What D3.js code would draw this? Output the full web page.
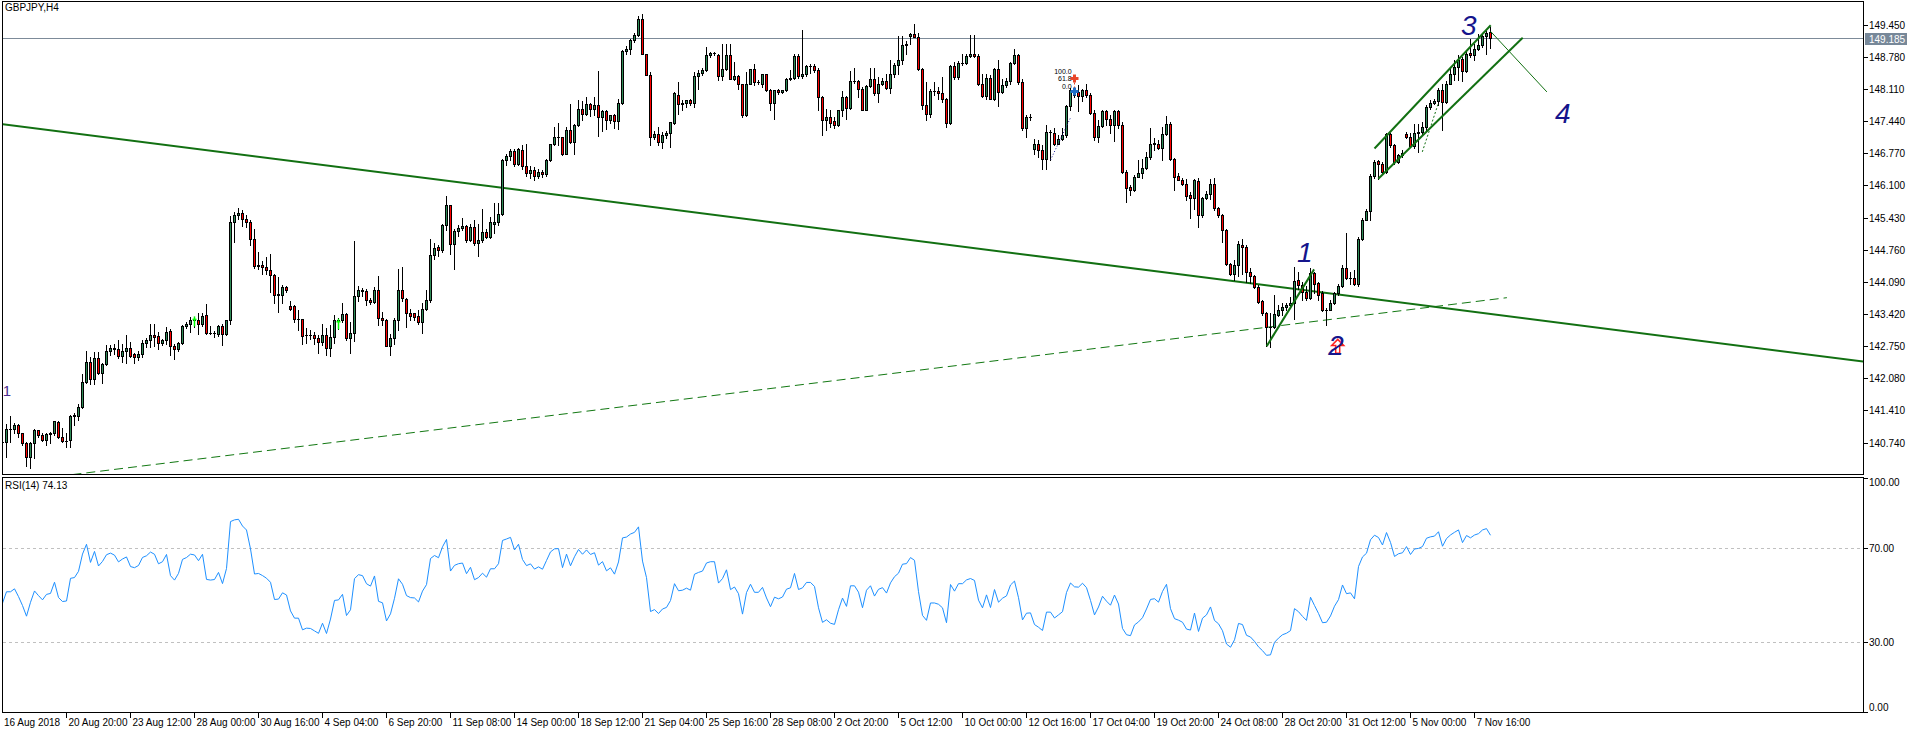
<!DOCTYPE html>
<html><head><meta charset="utf-8">
<script src="https://cdn.jsdelivr.net/npm/d3@7"></script>
<style>
body{margin:0;background:#fff}
svg{display:block}
text{font-family:"Liberation Sans",Arial,sans-serif}
</style></head>
<body><svg id="c" width="1916" height="734"></svg>
<script>
const symbolLabel = "GBPJPY,H4";
const rsiLabel = "RSI(14) 74.13";
const rsiPeriod = 14;
const rsiSeed = [0.10, 0.115]; // average gain / loss carried in from the bars before the window
const currentPrice = 149.185;
const timeLabels = ["16 Aug 2018","20 Aug 20:00","23 Aug 12:00","28 Aug 00:00","30 Aug 16:00","4 Sep 04:00","6 Sep 20:00","11 Sep 08:00","14 Sep 00:00","18 Sep 12:00","21 Sep 04:00","25 Sep 16:00","28 Sep 08:00","2 Oct 20:00","5 Oct 12:00","10 Oct 00:00","12 Oct 16:00","17 Oct 04:00","19 Oct 20:00","24 Oct 08:00","28 Oct 20:00","31 Oct 12:00","5 Nov 00:00","7 Nov 16:00"];
const priceTicks = [140.740,141.410,142.080,142.750,143.420,144.090,144.760,145.430,146.100,146.770,147.440,148.110,148.780,149.450];
const rsiTicks = [100,70,30,0];
const rsiLevels = [70,30];

const opens = [
140.75,140.75,141.03,141.03,141.10,140.93,140.72,140.44,140.73,141.00,
140.89,140.79,140.91,140.93,141.16,140.86,140.77,140.79,141.29,141.29,
141.47,142.01,142.41,142.06,142.51,142.19,142.37,142.65,142.72,142.68,
142.55,142.65,142.72,142.58,142.53,142.59,142.82,142.87,142.98,142.96,
142.82,142.87,143.06,142.75,142.68,142.82,143.16,143.21,143.30,143.29,
143.22,143.39,143.03,143.02,143.01,143.16,143.01,143.30,145.33,145.48,
145.53,145.41,145.34,144.99,144.42,144.44,144.41,144.33,144.24,143.82,
143.82,143.98,143.58,143.58,143.32,143.32,142.99,142.98,142.98,142.91,
142.84,142.99,142.71,142.94,143.29,143.29,143.41,142.92,143.03,143.79,
143.91,143.89,143.72,143.67,143.93,143.34,143.30,142.75,142.91,143.30,
143.91,143.74,143.43,143.43,143.37,143.25,143.53,143.71,144.66,144.82,
144.75,145.27,145.69,144.87,145.14,145.22,145.25,144.97,145.23,144.89,
144.97,145.13,145.03,145.29,145.33,145.51,146.63,146.72,146.82,146.55,
146.83,146.50,146.35,146.42,146.30,146.38,146.33,146.63,146.97,147.10,
147.11,146.75,147.26,147.01,147.37,147.70,147.60,147.79,147.70,147.77,
147.53,147.65,147.47,147.56,147.44,147.81,148.90,148.95,149.13,149.23,
149.58,148.85,148.40,147.11,147.18,147.00,147.15,147.20,147.40,147.99,
147.79,147.81,147.88,147.82,148.38,148.45,148.50,148.81,148.86,148.83,
148.38,148.52,148.81,148.31,148.39,148.21,147.56,148.22,148.52,148.26,
148.22,148.42,148.10,147.81,148.09,148.04,148.09,148.31,148.35,148.79,
148.38,148.43,148.59,148.59,148.50,147.95,147.46,147.52,147.44,147.36,
147.67,147.95,147.72,148.28,148.28,148.12,147.68,148.17,148.31,148.02,
148.22,148.27,148.13,148.42,148.61,148.72,149.02,149.22,149.25,149.20,
148.52,147.77,147.58,148.06,148.06,148.02,147.91,147.40,148.59,148.36,
148.65,148.65,148.79,148.84,148.79,148.22,147.96,148.35,147.91,148.52,
148.05,148.19,148.27,148.66,148.81,148.26,147.29,147.52,146.87,146.97,
146.83,146.66,147.22,147.20,146.97,147.06,147.15,147.75,148.10,148.04,
147.97,148.10,147.98,147.61,147.11,147.33,147.65,147.49,147.36,147.65,
147.37,146.38,146.07,146.00,146.28,146.36,146.47,146.70,146.97,146.96,
146.89,147.18,147.39,146.66,146.29,146.22,146.14,145.90,145.83,146.19,
145.48,145.83,145.92,146.14,145.62,145.48,145.17,144.46,144.26,144.44,
144.85,144.82,144.30,144.21,143.98,143.69,143.44,143.14,143.15,143.39,
143.50,143.57,143.60,143.65,144.12,144.02,143.88,143.76,144.28,144.07,
143.85,143.50,143.51,143.64,143.85,144.00,144.37,144.16,144.16,144.04,
144.99,145.39,145.56,146.29,146.61,146.54,146.38,147.17,146.94,146.59,
146.73,147.18,147.10,146.92,147.19,147.22,147.31,147.74,147.82,147.86,
148.10,147.84,148.22,148.42,148.57,148.74,148.49,148.86,148.81,148.95,
149.02,149.21,149.30];

const highs = [
140.78,141.12,141.30,141.15,141.13,140.94,140.75,140.75,141.03,141.01,
140.93,140.93,140.96,141.19,141.19,141.05,140.93,141.31,141.36,141.54,
142.16,142.64,142.53,142.63,142.63,142.40,142.77,142.78,142.79,142.87,
142.80,142.98,142.84,142.61,142.65,142.87,142.92,143.21,143.21,143.05,
142.90,143.15,143.10,142.80,142.84,143.20,143.25,143.35,143.36,143.43,
143.44,143.62,143.16,143.07,143.18,143.22,143.30,145.46,145.55,145.64,
145.58,145.49,145.39,145.20,144.71,144.53,144.60,144.67,144.26,144.19,
144.02,144.00,143.69,143.60,143.50,143.32,143.13,143.09,143.05,142.98,
143.22,143.12,143.18,143.39,143.34,143.64,143.44,143.25,144.94,144.00,
143.97,143.95,143.76,143.98,144.21,143.46,143.32,143.01,143.34,144.35,
144.40,143.76,143.53,143.44,143.50,143.64,143.91,144.99,144.89,144.85,
145.29,145.87,145.69,145.20,145.27,145.43,145.27,145.30,145.37,145.29,
145.60,145.20,145.44,145.74,145.74,146.66,146.75,146.85,146.87,146.89,
146.94,146.97,146.50,146.48,146.45,146.42,146.66,146.97,147.32,147.41,
147.12,147.32,147.79,147.39,147.88,147.86,147.95,147.82,147.95,148.48,
147.68,147.68,147.56,147.58,147.91,148.93,149.00,149.16,149.28,149.63,
149.67,148.85,148.47,147.24,147.31,147.22,147.24,147.42,148.05,148.26,
147.88,147.89,147.91,148.47,148.50,148.54,148.99,148.88,148.88,148.85,
149.06,149.06,149.06,148.67,148.40,148.21,148.47,148.52,148.64,148.29,
148.43,148.43,148.12,148.10,148.12,148.10,148.35,148.50,148.84,148.84,
149.35,148.62,148.63,148.64,148.54,147.96,147.70,147.67,147.53,147.68,
148.06,147.96,148.48,148.55,148.29,148.15,148.19,148.54,148.54,148.36,
148.35,148.43,148.71,148.65,149.21,149.21,149.11,149.28,149.46,149.27,
148.54,148.26,148.12,148.26,148.15,148.36,147.93,148.61,148.68,148.70,
148.85,148.85,149.23,149.23,148.85,148.43,148.43,148.40,148.54,148.72,
148.31,148.35,148.68,148.95,148.84,148.33,147.56,147.58,147.06,147.04,
146.94,147.36,147.25,147.29,147.15,147.29,147.77,148.14,148.15,148.19,
148.12,148.21,148.02,147.68,147.46,147.67,147.67,147.56,147.67,147.67,
147.42,146.42,146.10,146.31,146.63,146.66,146.80,147.29,147.08,147.04,
147.32,147.54,147.42,146.67,146.35,146.26,146.24,145.97,146.24,146.26,
145.86,145.99,146.24,146.26,145.65,145.50,145.20,144.48,144.54,144.94,
144.99,144.85,144.37,144.23,144.02,143.72,143.46,143.43,143.81,143.60,
143.64,143.64,143.78,144.39,144.30,144.09,144.00,144.37,144.30,144.09,
143.90,143.55,143.71,143.88,144.05,144.44,145.11,144.30,144.33,145.03,
145.43,145.60,146.33,146.63,146.64,146.59,147.20,147.20,146.97,146.76,
146.83,147.22,147.19,147.39,147.39,147.42,147.77,147.89,147.91,148.14,
148.21,148.28,148.58,148.71,148.81,148.78,148.90,149.16,149.06,149.25,
149.25,149.32,149.40];

const lows = [
140.72,140.44,140.75,140.93,140.86,140.68,140.25,140.20,140.41,140.86,
140.77,140.68,140.72,140.89,140.84,140.75,140.65,140.65,141.10,141.20,
141.45,141.98,141.97,141.97,142.16,141.98,142.35,142.57,142.58,142.50,
142.42,142.39,142.53,142.39,142.46,142.52,142.73,142.73,142.76,142.70,
142.78,142.80,142.57,142.49,142.65,142.80,143.12,143.05,143.15,143.00,
143.17,143.01,143.00,142.93,142.97,142.78,142.99,143.21,144.92,145.41,
145.25,145.24,144.85,144.37,144.35,144.26,144.26,143.88,143.64,143.46,
143.65,143.88,143.51,143.25,143.09,142.80,142.82,142.89,142.80,142.61,
142.78,142.57,142.55,142.82,143.10,143.25,142.87,142.61,142.86,143.69,
143.79,143.60,143.63,143.65,143.18,143.18,142.75,142.57,142.80,143.09,
143.70,143.14,143.30,143.29,143.22,143.03,143.50,143.67,144.56,144.63,
144.71,145.17,144.68,144.35,145.04,145.18,144.92,144.94,144.85,144.63,
144.92,145.01,145.00,145.10,145.27,145.48,146.52,146.63,146.50,146.52,
146.45,146.30,146.25,146.22,146.26,146.28,146.30,146.60,146.94,146.94,
146.73,146.75,146.99,146.76,147.35,147.46,147.56,147.54,147.56,147.13,
147.24,147.27,147.40,147.30,147.28,147.80,148.85,148.85,149.09,149.22,
148.85,148.40,146.94,147.06,146.95,146.89,147.08,146.90,147.39,147.60,
147.67,147.74,147.77,147.74,148.12,148.40,148.49,148.78,148.81,148.29,
148.29,148.50,148.31,148.29,148.12,147.53,147.54,148.22,148.19,148.21,
148.15,148.07,147.68,147.49,148.00,148.03,148.08,148.29,148.33,148.35,
148.35,148.38,148.45,148.47,147.67,147.15,147.25,147.32,147.29,147.33,
147.54,147.49,147.70,148.24,147.95,147.67,147.67,148.15,147.98,147.84,
148.19,148.12,148.02,148.36,148.43,148.64,148.85,149.04,149.19,148.50,
147.70,147.46,147.53,147.98,147.91,147.84,147.31,147.39,148.33,148.33,
148.61,148.64,148.78,148.77,148.19,147.95,147.91,147.90,147.89,147.75,
148.03,148.15,148.22,148.64,148.22,147.25,147.11,147.47,146.76,146.70,
146.45,146.45,146.63,146.94,146.97,147.04,147.10,147.68,147.95,147.65,
147.86,147.95,147.58,147.04,147.01,147.32,147.36,147.20,147.03,147.29,
146.36,145.76,145.90,145.99,146.27,146.26,146.45,146.66,146.83,146.87,
146.63,147.15,146.64,146.00,146.21,146.10,145.79,145.43,145.60,145.24,
145.44,145.81,145.81,145.58,145.44,144.92,144.44,144.23,144.12,144.21,
144.26,144.09,144.07,143.97,143.64,143.39,142.75,142.73,143.12,143.37,
143.39,143.50,143.55,143.32,143.95,143.71,143.72,143.74,143.85,143.71,
143.48,143.18,143.50,143.62,143.81,143.98,144.14,144.05,144.02,144.00,
144.96,145.37,145.37,146.26,146.24,146.36,146.35,146.90,146.55,146.56,
146.69,147.08,146.90,146.89,146.80,147.18,147.26,147.70,147.79,147.77,
147.25,147.82,148.21,148.29,148.29,148.28,148.47,148.78,148.72,148.93,
148.99,148.84,148.97];

const closes = [
140.75,141.03,141.03,141.10,140.93,140.72,140.44,140.73,141.00,140.89,
140.79,140.91,140.93,141.18,140.86,140.77,140.78,141.29,141.31,141.47,
142.01,142.41,142.06,142.51,142.19,142.37,142.65,142.72,142.68,142.55,
142.65,142.72,142.55,142.53,142.59,142.82,142.87,142.98,142.95,142.82,
142.87,143.05,142.75,142.68,142.82,143.16,143.21,143.30,143.29,143.22,
143.37,143.03,143.02,143.03,143.16,143.01,143.30,145.33,145.48,145.53,
145.41,145.34,144.99,144.42,144.44,144.39,144.33,144.24,143.82,143.83,
143.98,143.93,143.53,143.32,143.32,142.96,142.99,142.98,142.91,142.84,
142.99,142.71,142.94,143.29,143.30,143.41,142.92,143.03,143.79,143.91,
143.89,143.72,143.67,143.93,143.34,143.30,142.75,142.91,143.30,143.91,
143.76,143.43,143.37,143.36,143.25,143.53,143.71,144.66,144.80,144.75,
145.27,145.69,144.87,145.14,145.22,145.25,144.97,145.23,144.89,144.97,
145.13,145.03,145.33,145.33,145.51,146.63,146.72,146.82,146.55,146.85,
146.50,146.35,146.42,146.30,146.38,146.33,146.63,146.97,147.10,147.11,
146.75,147.26,147.01,147.37,147.70,147.60,147.79,147.70,147.77,147.53,
147.65,147.47,147.56,147.44,147.81,148.90,148.95,149.13,149.23,149.58,
148.85,148.40,147.11,147.18,147.00,147.15,147.20,147.42,148.03,147.79,
147.81,147.88,147.82,148.38,148.45,148.50,148.81,148.86,148.86,148.38,
148.52,148.81,148.31,148.39,148.21,147.56,148.22,148.52,148.26,148.26,
148.42,148.10,147.81,148.09,148.04,148.09,148.31,148.35,148.79,148.38,
148.43,148.59,148.59,148.50,147.95,147.46,147.52,147.40,147.36,147.67,
147.95,147.72,148.28,148.28,148.12,147.68,148.17,148.31,148.02,148.22,
148.27,148.13,148.42,148.61,148.72,149.02,149.04,149.25,149.20,148.52,
147.77,147.58,148.06,148.06,148.02,147.91,147.40,148.59,148.36,148.65,
148.65,148.79,148.84,148.79,148.22,147.96,148.35,147.91,148.52,148.05,
148.19,148.27,148.66,148.81,148.26,147.29,147.52,147.53,146.97,146.83,
146.66,147.22,147.22,146.97,147.06,147.15,147.75,148.10,147.98,147.97,
148.10,147.98,147.61,147.11,147.33,147.65,147.49,147.36,147.65,147.37,
146.38,146.05,146.00,146.28,146.36,146.47,146.70,146.97,146.99,146.89,
147.18,147.39,146.66,146.28,146.22,146.14,145.87,145.83,146.22,145.48,
145.83,145.92,146.14,145.62,145.48,145.17,144.46,144.26,144.44,144.87,
144.82,144.30,144.21,143.98,143.67,143.44,143.14,143.15,143.41,143.50,
143.57,143.60,143.65,144.11,144.02,143.88,143.76,144.28,144.05,143.81,
143.50,143.51,143.64,143.85,144.00,144.37,144.16,144.18,144.04,144.99,
145.39,145.56,146.29,146.59,146.54,146.38,147.17,146.94,146.59,146.73,
146.78,147.10,146.92,147.19,147.22,147.31,147.74,147.82,147.86,148.10,
147.84,148.22,148.42,148.57,148.71,148.49,148.85,148.81,148.95,149.02,
149.21,149.28,149.185];

// drawn objects, in (bar index, price)
const trendMain = [[0,147.38],[465,142.43]];
const trendDashed = [[18.4,140.08],[376.1,143.76]];
const waveLine1 = [[316.05,142.75],[327.9,144.35]];
const channelUpper = [[343.0,146.87],[372.05,149.44]];
const channelLower = [[343.95,146.24],[380.05,149.18]];
const projLine = [[372.05,149.31],[386.1,148.05]];
const dotGreen = [[354.95,146.80],[358.95,147.81]];
const dotBlue = [[262.0,146.63],[267.05,147.52]];
const waveLabels = [["1",325.6,144.50],["2",333.4,142.57],["3",366.6,149.23],["4",390.1,147.40]];
const fibTexts = [["100.0",267.3,148.43],["61.8",267.3,148.27],["0.0",267.3,148.11]];
const fibMarks = [[268,148.33,"#e8462a"],[268,148.06,"#1f6fc8"]];
const limeMarks = [[48,143.37,143.16],[84,143.32,143.10]];

// ---------- drawing ----------
const svg = d3.select("#c");
const PL=2.5, PR=1863.5, MT=1.5, MB=474.5, RT=477.5, RB=712.5;
const x = d3.scaleLinear().domain([0,1]).range([2.5,6.5]);
const y = d3.scaleLinear().domain([140.74,149.45]).range([442.5,24.8]);
const yr = d3.scaleLinear().domain([0,100]).range([712,478]);

const defs = svg.append("defs");
defs.append("clipPath").attr("id","clipMain").append("rect").attr("x",3).attr("y",2).attr("width",1860).attr("height",472);
defs.append("clipPath").attr("id","clipRsi").append("rect").attr("x",3).attr("y",478).attr("width",1860).attr("height",234);

svg.append("rect").attr("width",1916).attr("height",734).attr("fill","#fff");

// current price line
const gm = svg.append("g").attr("clip-path","url(#clipMain)");
gm.append("line").attr("x1",PL).attr("x2",PR).attr("y1",Math.round(y(currentPrice))+0.5).attr("y2",Math.round(y(currentPrice))+0.5)
  .attr("stroke","#7d8b99").attr("stroke-width",1).attr("shape-rendering","crispEdges");

// trendlines
function seg(pts){return pts.map(d=>[x(d[0]),y(d[1])]);}
function extend(pts,i0,i1){const s=(pts[1][1]-pts[0][1])/(pts[1][0]-pts[0][0]);return [[i0,pts[0][1]+s*(i0-pts[0][0])],[i1,pts[0][1]+s*(i1-pts[0][0])]];}
const lineGen = d3.line();
gm.append("path").attr("d",lineGen(seg([extend(trendDashed,14,0)[0],trendDashed[1]])))
  .attr("stroke","#127812").attr("stroke-width",1).attr("fill","none").attr("stroke-dasharray","9,5");
gm.append("path").attr("d",lineGen(seg(extend(trendMain,x.invert(PL),x.invert(PR)))))
  .attr("stroke","#127012").attr("stroke-width",2).attr("fill","none");

// candles
const idx = d3.range(closes.length);
const bodyTop = i=>Math.round(y(Math.max(opens[i],closes[i])));
const bodyBot = i=>Math.round(y(Math.min(opens[i],closes[i])));
const gc = gm.append("g").attr("shape-rendering","crispEdges");
gc.selectAll("line.w").data(idx).join("line").attr("class","w")
  .attr("x1",i=>x(i)).attr("x2",i=>x(i))
  .attr("y1",i=>Math.round(y(highs[i]))).attr("y2",i=>Math.round(y(lows[i]))+1)
  .attr("stroke","#000").attr("stroke-width",1);
gc.selectAll("rect.b").data(idx.filter(i=>bodyBot(i)-bodyTop(i)>=1)).join("rect").attr("class","b")
  .attr("x",i=>x(i)-1).attr("width",2)
  .attr("y",i=>bodyTop(i)+0.5)
  .attr("height",i=>bodyBot(i)-bodyTop(i))
  .attr("fill",i=>closes[i]>=opens[i]?"#2e8b57":"#ff0000").attr("stroke","#000").attr("stroke-width",1);
gc.selectAll("line.d").data(idx.filter(i=>bodyBot(i)-bodyTop(i)<1)).join("line").attr("class","d")
  .attr("x1",i=>x(i)-1.5).attr("x2",i=>x(i)+1.5)
  .attr("y1",i=>Math.round(y(closes[i]))+0.5).attr("y2",i=>Math.round(y(closes[i]))+0.5)
  .attr("stroke","#000").attr("stroke-width",1);

// lime markers
limeMarks.forEach(m=>{
  gm.append("line").attr("x1",x(m[0])).attr("x2",x(m[0])).attr("y1",y(m[1])).attr("y2",y(m[2])).attr("stroke","#00ff00").attr("stroke-width",1.5);
  gm.append("line").attr("x1",x(m[0])-2).attr("x2",x(m[0])+2).attr("y1",y(m[1])+3).attr("y2",y(m[1])+3).attr("stroke","#00ff00").attr("stroke-width",1.5);
});

// wave / channel lines
[[waveLine1,2,null],[channelUpper,2,null],[channelLower,2,null],[projLine,1,null],[dotGreen,1,"2,2"]].forEach(l=>{
  gm.append("path").attr("d",lineGen(seg(l[0]))).attr("stroke","#127012").attr("stroke-width",l[1]).attr("fill","none").attr("stroke-dasharray",l[2]);
});
gm.append("path").attr("d",lineGen(seg(dotBlue))).attr("stroke","#1a1a9a").attr("stroke-width",1).attr("fill","none").attr("stroke-dasharray","1,2");

// fib texts and markers
fibTexts.forEach(t=>gm.append("text").attr("x",x(t[1])).attr("y",y(t[2])).attr("text-anchor","end").attr("font-size",7).attr("fill","#000").text(t[0]));
gm.append("line").attr("x1",x(268)).attr("x2",x(268)).attr("y1",y(fibMarks[0][1])).attr("y2",y(fibMarks[1][1])).attr("stroke","#e8462a").attr("stroke-dasharray","2,2");
fibMarks.forEach(m=>{
  const cx=x(m[0]), cy=y(m[1]);
  gm.append("path").attr("d",`M${cx-1.5},${cy-4}h3v2.5h2.5v3h-2.5v2.5h-3v-2.5h-2.5v-3h2.5z`).attr("fill",m[2]);
});

// red arrow at wave 2 (under the label)
(function(){const cx=x(333.8), ty=y(142.89), by=y(142.60);
  gm.append("path").attr("d",`M${cx},${ty} L${cx+6},${ty+6} L${cx+2},${ty+6} L${cx+2},${by} L${cx-2},${by} L${cx-2},${ty+6} L${cx-6},${ty+6} Z`)
   .attr("fill","none").attr("stroke","#ff2020").attr("stroke-width",1.5);})();
// wave labels
waveLabels.forEach(w=>gm.append("text").attr("x",x(w[1])).attr("y",y(w[2])).attr("text-anchor","middle")
  .attr("font-family","'Liberation Serif','Times New Roman',serif").attr("font-style","italic").attr("font-size",28).attr("fill","#15158c").text(w[0]));
gm.append("text").attr("x",x(1.1)).attr("y",y(141.71)).attr("text-anchor","middle").attr("font-size",15).attr("fill","#4b2d8f").text("1");

// header
svg.append("text").attr("x",5).attr("y",11).attr("font-size",10).attr("fill","#000").text(symbolLabel);

// frames
svg.append("rect").attr("x",PL).attr("y",MT).attr("width",PR-PL).attr("height",MB-MT).attr("fill","none").attr("stroke","#000").attr("shape-rendering","crispEdges");
svg.append("rect").attr("x",PL).attr("y",RT).attr("width",PR-PL).attr("height",RB-RT).attr("fill","none").attr("stroke","#000").attr("shape-rendering","crispEdges");

// price axis
const ga = svg.append("g");
priceTicks.forEach(p=>{
  const yy=Math.round(y(p))+0.5;
  ga.append("line").attr("x1",PR).attr("x2",PR+4).attr("y1",yy).attr("y2",yy).attr("stroke","#000").attr("shape-rendering","crispEdges");
  ga.append("text").attr("x",1869).attr("y",yy+3.5).attr("font-size",10).attr("fill","#000").text(p.toFixed(3));
});
const cpy = Math.round(y(currentPrice));
ga.append("rect").attr("x",1865).attr("y",cpy-5).attr("width",42).attr("height",12).attr("fill","#778899");
ga.append("text").attr("x",1869).attr("y",cpy+5).attr("font-size",10).attr("fill","#fff").text(currentPrice.toFixed(3));

// RSI(14), Wilder smoothing of the closes, starting from the carried-in averages
const rsiVals = [];
(function(){let ag=rsiSeed[0],al=rsiSeed[1];
  rsiVals.push([0,100-100/(1+ag/al)]);
  for(let i=1;i<closes.length;i++){const ch=closes[i]-closes[i-1];const g=Math.max(ch,0),l=Math.max(-ch,0);
    ag=(ag*(rsiPeriod-1)+g)/rsiPeriod; al=(al*(rsiPeriod-1)+l)/rsiPeriod;
    rsiVals.push([i, al===0?100:100-100/(1+ag/al)]);}})();
const gr = svg.append("g").attr("clip-path","url(#clipRsi)");
rsiLevels.forEach(v=>gr.append("line").attr("x1",PL).attr("x2",PR).attr("y1",Math.round(yr(v))+0.5).attr("y2",Math.round(yr(v))+0.5)
  .attr("stroke","#c0c0c0").attr("stroke-dasharray","3,3").attr("shape-rendering","crispEdges"));
gr.append("path").attr("d",d3.line().x(d=>x(d[0])).y(d=>yr(d[1]))(rsiVals)).attr("fill","none").attr("stroke","#1e90ff").attr("stroke-width",1);
svg.append("text").attr("x",5).attr("y",489).attr("font-size",10).attr("fill","#000").text(rsiLabel);
rsiTicks.forEach(v=>{
  const yy=Math.round(yr(v))+0.5;
  const ty = v===100?yy+7:(v===0?yy-2:yy+3.5);
  svg.append("line").attr("x1",PR).attr("x2",PR+4).attr("y1",yy).attr("y2",yy).attr("stroke","#000").attr("shape-rendering","crispEdges");
  svg.append("text").attr("x",1869).attr("y",ty).attr("font-size",10).attr("fill","#000").text(v.toFixed(2));
});

// time axis
timeLabels.forEach((t,k)=>{
  const i=k*16, xx=x(i);
  if(k>0) svg.append("line").attr("x1",xx).attr("x2",xx).attr("y1",RB).attr("y2",RB+5).attr("stroke","#000").attr("shape-rendering","crispEdges");
  svg.append("text").attr("x",k===0?4:xx+2).attr("y",726).attr("font-size",10).attr("fill","#000").text(t);
});
</script>
</body></html>
